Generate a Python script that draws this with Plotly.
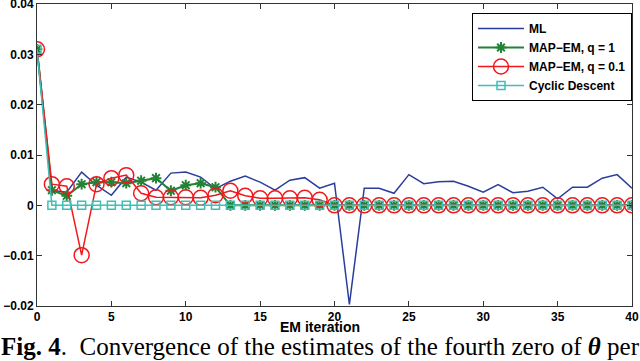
import plotly.graph_objects as go

iters = list(range(41))
ml = [0.031, 0.0030, 0.0026, 0.0066, 0.0040, 0.0020, 0.0056, 0.0046, 0.0030, 0.0064,
      0.0066, 0.0056, 0.0033, 0.0048, 0.0058, 0.0046, 0.0030, 0.0050, 0.0055, 0.0034,
      0.0044, -0.0197, 0.0034, 0.0034, 0.0024, 0.0061, 0.0043, 0.0047, 0.0048, 0.0038,
      0.0026, 0.0041, 0.0025, 0.0028, 0.0036, 0.0013, 0.0036, 0.0036, 0.0054, 0.0061,
      0.0034]
map_q1 = [0.031, 0.0030, 0.0019, 0.0042, 0.0046, 0.0046, 0.0044, 0.0049, 0.0054, 0.0029,
          0.0040, 0.0044, 0.0036] + [0.0] * 28
map_q01 = [0.031, 0.0042, 0.0038, -0.0099, 0.0042, 0.0054, 0.0060, 0.0024, 0.0016, 0.0016,
           0.0016, 0.0015, 0.0020, 0.0029, 0.0019, 0.0014, 0.0014, 0.0014, 0.0015, 0.0011] + [0.0] * 21
cyclic = [0.031] + [0.0] * 40

x_ticks = [0, 5, 10, 15, 20, 25, 30, 35, 40]
y_ticks = [0.04, 0.03, 0.02, 0.01, 0, -0.01, -0.02]
y_tick_labels = ["0.04", "0.03", "0.02", "0.01", "0", "\u22120.01", "\u22120.02"]

W, H = 640, 361
ML_, MR_, MT_, MB_ = 37, 8, 4, 55
PH = H - MT_ - MB_

fig = go.Figure()
fig.add_trace(go.Scatter(x=iters, y=ml, mode="lines", name="ML",
                         line=dict(color="#2b3d9c", width=1.5)))
fig.add_trace(go.Scatter(x=iters, y=map_q1, mode="lines+markers", name="MAP\u2212EM, q = 1",
                         line=dict(color="#238236", width=2),
                         marker=dict(symbol="asterisk-open", size=9, color="#238236",
                                     line=dict(color="#238236", width=2))))
fig.add_trace(go.Scatter(x=iters, y=map_q01, mode="lines+markers", name="MAP\u2212EM, q = 0.1",
                         line=dict(color="#f0181c", width=1.5),
                         marker=dict(symbol="circle-open", size=15, color="#f0181c",
                                     line=dict(color="#f0181c", width=1.5))))
fig.add_trace(go.Scatter(x=iters, y=cyclic, mode="lines+markers", name="Cyclic Descent",
                         line=dict(color="#3dc0b8", width=1.5),
                         marker=dict(symbol="square-open", size=8, color="#3dc0b8",
                                     line=dict(color="#3dc0b8", width=1.5))))

axis_common = dict(showline=True, linecolor="#333", linewidth=1, mirror="ticks",
                   ticks="inside", ticklen=5, tickcolor="#333", showgrid=False, zeroline=False,
                   automargin=False, ticklabeloverflow="allow",
                   tickfont=dict(family="Liberation Sans", size=12, color="black", weight="bold"))
fig.update_xaxes(range=[0, 40], tickvals=x_ticks, ticktext=[str(t) for t in x_ticks],
                 ticklabelstandoff=0, **axis_common)
fig.update_yaxes(range=[-0.02, 0.04], tickvals=y_ticks, ticktext=y_tick_labels,
                 ticklabelstandoff=0, **axis_common)


def py(pix):
    return (H - MB_ - pix) / PH


def px(pix):
    return (pix - ML_) / (W - ML_ - MR_)


fig.update_layout(
    width=W, height=H,
    margin=dict(l=ML_, r=MR_, t=MT_, b=MB_, autoexpand=False),
    paper_bgcolor="white", plot_bgcolor="white",
    showlegend=True,
    legend=dict(x=1, y=py(13), xanchor="right", yanchor="top",
                bgcolor="white", bordercolor="black", borderwidth=1,
                font=dict(family="Liberation Sans", size=12, color="black", weight="bold"),
                tracegroupgap=0, itemwidth=46, entrywidth=130),
    annotations=[
        dict(text="<b>EM iteration</b>", x=px(320), y=py(327), xref="paper", yref="paper",
             showarrow=False, xanchor="center", yanchor="middle",
             font=dict(family="Liberation Sans", size=14, color="black")),
        dict(text="<b>Fig. 4</b>.  Convergence of the estimates of the fourth zero of <b><i>\u03b8</i></b> per",
             x=px(320), y=py(346), xref="paper", yref="paper", showarrow=False,
             xanchor="center", yanchor="middle",
             font=dict(family="Liberation Serif", size=25, color="black")),
    ],
)
fig.write_html("out.html", config={"displayModeBar": False},
               post_script="document.body.style.margin='0';document.body.style.padding='0';")
